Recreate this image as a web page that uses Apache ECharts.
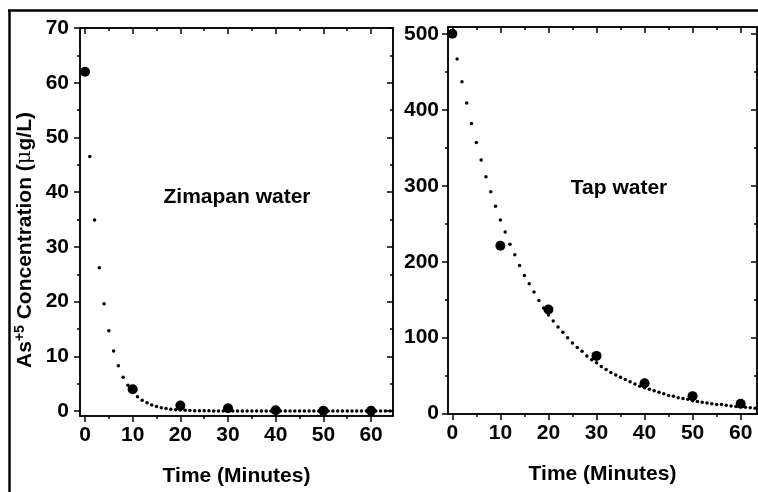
<!DOCTYPE html>
<html>
<head>
<meta charset="utf-8">
<script src="https://cdn.jsdelivr.net/npm/echarts@6/dist/echarts.min.js"></script>
<style>html,body{margin:0;padding:0;background:#fff}#c{width:758px;height:492px}</style>
</head>
<body>
<div id="c"></div>
<script>
// ---- data ----
const timeMeasured = [0, 10, 20, 30, 40, 50, 60];
const zimapanMeasured = [62, 4.0, 1.0, 0.5, 0.15, 0.05, 0.05];
const tapMeasured = [500, 221, 137, 76, 40, 23, 13];

const fitTimes = [0,1,2,3,4,5,6,7,8,9,10,11,12,13,14,15,16,17,18,19,20,21,22,23,24,25,26,27,28,29,30,31,32,33,34,35,36,37,38,39,40,41,42,43,44,45,46,47,48,49,50,51,52,53,54,55,56,57,58,59,60,61,62,63,64];
const zimapanFit = [62,46.5,34.9,26.2,19.6,14.7,11.0,8.3,6.2,4.7,3.5,2.6,2.0,1.5,1.1,0.83,0.62,0.47,0.35,0.26,0.2,0.15,0.11,0.08,0.06,0.05,0.04,0.03,0.02,0.02,0.01,0,0,0,0,0,0,0,0,0,0,0,0,0,0,0,0,0,0,0,0,0,0,0,0,0,0,0,0,0,0,0,0,0,0];
const tapFit = [500,467,437,409,382,357,334,312,292,273,255,239,223,209,195,182,171,160,149,139,130,122,114,107,100,93,87,82,76,71,67,62,58,54,51,48,45,42,39,36,34,32,30,28,26,24,23,21,20,19,17,16,15,14,13,12,12,11,10,9.5,8.9,8.3,7.8,7.2,6.8];

const xMajor = [0, 10, 20, 30, 40, 50, 60];
const xMinor = [5, 15, 25, 35, 45, 55];
const yMajorLeft = [0, 10, 20, 30, 40, 50, 60, 70];
const yMinorLeft = [5, 15, 25, 35, 45, 55, 65];
const yMajorRight = [0, 100, 200, 300, 400, 500];
const yMinorRight = [50, 150, 250, 350, 450];

const FONT = "'Liberation Sans', Arial, sans-serif";
const LINE = {color: '#000', width: 1.5};

function pair(arrX, arrY) { return arrX.map((x, i) => [x, arrY[i]]); }

function xAx(g, pos, vals, len, inside, label, min, max, name, nameGap) {
  return {
    gridIndex: g, type: 'value', position: pos, min: min, max: max,
    axisLine: {show: true, onZero: false, lineStyle: LINE},
    splitLine: {show: false},
    axisTick: {show: true, inside: inside, length: len, customValues: vals, lineStyle: LINE},
    axisLabel: label ? {show: true, customValues: vals, fontSize: 21, fontWeight: 'bold', color: '#000', fontFamily: FONT, margin: 9} : {show: false},
    name: name || '', nameLocation: 'middle', nameGap: nameGap || 0,
    nameTextStyle: {fontSize: 21, fontWeight: 'bold', color: '#000', fontFamily: FONT}
  };
}
function yAx(g, pos, vals, len, inside, label, min, max, margin) {
  return {
    gridIndex: g, type: 'value', position: pos, min: min, max: max,
    axisLine: {show: true, onZero: false, lineStyle: LINE},
    splitLine: {show: false},
    axisTick: {show: true, inside: inside, length: len, customValues: vals, lineStyle: LINE},
    axisLabel: label ? {show: true, customValues: vals, fontSize: 21, fontWeight: 'bold', color: '#000', fontFamily: FONT, margin: margin} : {show: false}
  };
}

const LX = [-1.05, 64.6], LY = [-0.9, 70];
const RX = [-0.9, 63.4], RY = [-0.5, 509];

const DOT = {color: '#000', opacity: 1};

const option = {
  animation: false,
  backgroundColor: '#fff',
  grid: [
    {left: 80, top: 28, width: 313, height: 388},
    {left: 448, top: 27, width: 309, height: 387}
  ],
  xAxis: [
    xAx(0, 'bottom', xMajor, 6, false, true, LX[0], LX[1], 'Time (Minutes)', 50),
    xAx(0, 'bottom', xMinor, 3, false, false, LX[0], LX[1]),
    xAx(0, 'top', xMajor, 6, true, false, LX[0], LX[1]),
    xAx(0, 'top', xMinor, 3, true, false, LX[0], LX[1]),
    xAx(1, 'bottom', xMajor, 6, false, true, RX[0], RX[1], 'Time (Minutes)', 50),
    xAx(1, 'bottom', xMinor, 3, false, false, RX[0], RX[1]),
    xAx(1, 'top', xMajor, 6, true, false, RX[0], RX[1]),
    xAx(1, 'top', xMinor, 3, true, false, RX[0], RX[1])
  ],
  yAxis: [
    yAx(0, 'left', yMajorLeft, 6, false, true, LY[0], LY[1], 11),
    yAx(0, 'left', yMinorLeft, 3, false, false, LY[0], LY[1]),
    yAx(0, 'right', yMajorLeft, 6, true, false, LY[0], LY[1]),
    yAx(0, 'right', yMinorLeft, 3, true, false, LY[0], LY[1]),
    yAx(1, 'left', yMajorRight, 6, false, true, RY[0], RY[1], 9),
    yAx(1, 'left', yMinorRight, 3, false, false, RY[0], RY[1]),
    yAx(1, 'right', yMajorRight, 6, true, false, RY[0], RY[1]),
    yAx(1, 'right', yMinorRight, 3, true, false, RY[0], RY[1])
  ],
  series: [
    {type: 'scatter', xAxisIndex: 0, yAxisIndex: 0, data: pair(fitTimes, zimapanFit), symbol: 'circle', symbolSize: 3.5, itemStyle: DOT, z: 3},
    {type: 'scatter', xAxisIndex: 0, yAxisIndex: 0, data: pair(timeMeasured, zimapanMeasured), symbol: 'circle', symbolSize: 10, itemStyle: DOT, z: 4},
    {type: 'scatter', xAxisIndex: 4, yAxisIndex: 4, data: pair(fitTimes, tapFit), symbol: 'circle', symbolSize: 3.5, itemStyle: DOT, z: 3},
    {type: 'scatter', xAxisIndex: 4, yAxisIndex: 4, data: pair(timeMeasured, tapMeasured), symbol: 'circle', symbolSize: 10, itemStyle: DOT, z: 4}
  ],
  graphic: [
    {type: 'line', shape: {x1: 9.5, y1: 10, x2: 9.5, y2: 492}, style: {stroke: '#000', lineWidth: 2.5}},
    {type: 'line', shape: {x1: 8, y1: 10.5, x2: 758, y2: 10.5}, style: {stroke: '#000', lineWidth: 2.5}},
    {type: 'text', x: 237, y: 197, style: {text: 'Zimapan water', fontSize: 21, fontWeight: 'bold', fontFamily: FONT, fill: '#000', align: 'center', verticalAlign: 'middle'}},
    {type: 'text', x: 619, y: 188, style: {text: 'Tap water', fontSize: 21, fontWeight: 'bold', fontFamily: FONT, fill: '#000', align: 'center', verticalAlign: 'middle'}},
    {type: 'text', x: 25, y: 240, rotation: Math.PI / 2, style: {
      text: '{b|As}{s|+5}{b| Concentration (}{m|μ}{b|g/L)}',
      align: 'center', verticalAlign: 'middle', fill: '#000',
      rich: {
        b: {fontSize: 21, fontWeight: 'bold', fontFamily: FONT, fill: '#000', lineHeight: 24},
        m: {fontSize: 21, fontWeight: 'normal', fontFamily: "'DejaVu Serif', serif", fill: '#000', lineHeight: 24},
        s: {fontSize: 14, fontWeight: 'bold', fontFamily: FONT, fill: '#000', verticalAlign: 'top', lineHeight: 14}
      }
    }}
  ]
};

const chart = echarts.init(document.getElementById('c'), null, {renderer: 'canvas'});
chart.setOption(option);
</script>
</body>
</html>
